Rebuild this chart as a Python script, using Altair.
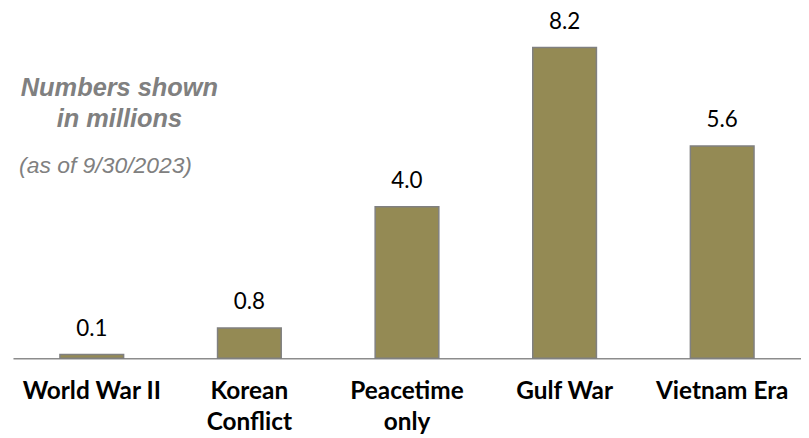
import altair as alt
import pandas as pd

categories = ["World War II", "Korean|Conflict", "Peacetime|only", "Gulf War", "Vietnam Era"]
values = [0.1, 0.8, 4.0, 8.2, 5.6]
value_labels = ["0.1", "0.8", "4.0", "8.2", "5.6"]

df = pd.DataFrame({"cat": categories, "val": values, "lab": value_labels})

x = alt.X("cat:N", sort=categories, title=None,
          scale=alt.Scale(paddingInner=0.596, paddingOuter=0.298),
          axis=alt.Axis(labelExpr="split(datum.label, '|')", labelAngle=0,
                        labelFont="Lato", labelFontWeight="bold", labelFontSize=24.5,
                        labelColor="#000000", labelLineHeight=32, labelBaseline="top",
                        labelPadding=21, ticks=False, domainColor="#8C8C8C",
                        domainWidth=1.5, grid=False, labelOverlap=False))
y = alt.Y("val:Q", title=None, scale=alt.Scale(domain=[0, 8.95]), axis=None)

bars = alt.Chart(df).mark_bar(color="#948A54", stroke="#808080", strokeWidth=1.5).encode(x=x, y=y)
labels = alt.Chart(df).mark_text(font="Lato", fontSize=22.5, color="#000000",
                                  baseline="middle", dy=-26).encode(x=x, y=y, text="lab:N")

note_style = dict(font="Liberation Sans", color="#808080", align="center", baseline="middle",
                  fontStyle="italic")
n1 = alt.Chart(pd.DataFrame({"t": ["Numbers shown"]})).mark_text(
    fontSize=25.5, fontWeight="bold", **note_style).encode(
    text="t:N", x=alt.value(107), y=alt.value(69))
n2 = alt.Chart(pd.DataFrame({"t": ["in millions"]})).mark_text(
    fontSize=25.5, fontWeight="bold", **note_style).encode(
    text="t:N", x=alt.value(107), y=alt.value(101))
n3 = alt.Chart(pd.DataFrame({"t": ["(as of 9/30/2023)"]})).mark_text(
    fontSize=23, **note_style).encode(
    text="t:N", x=alt.value(93), y=alt.value(148))

chart = alt.layer(bars, labels, n1, n2, n3).properties(
    width=792, height=341,
    autosize=alt.AutoSizeParams(type="none"),
    padding={"left": 5, "top": 10, "right": 0, "bottom": 79},
).configure_view(stroke=None)

chart.save("out.html", embed_options={"renderer": "svg", "actions": False})
